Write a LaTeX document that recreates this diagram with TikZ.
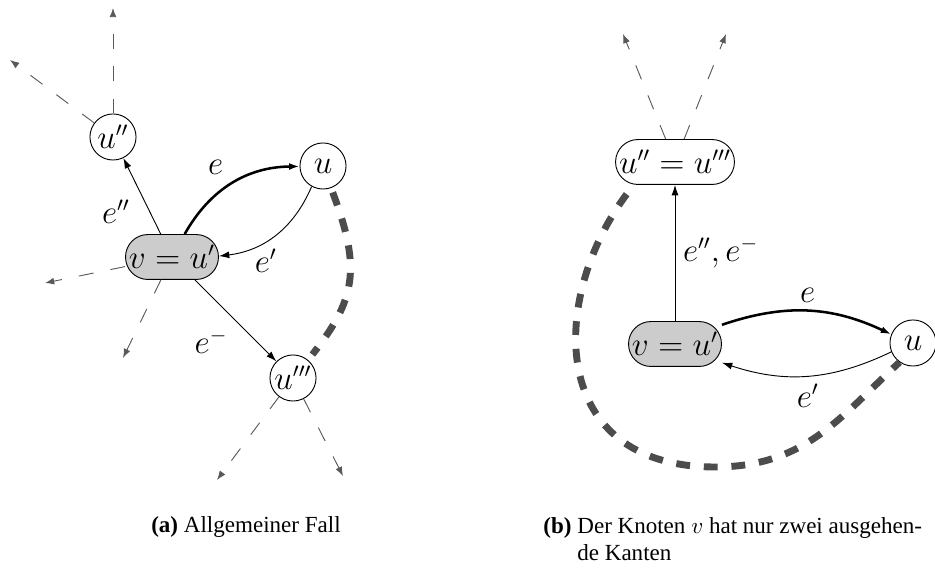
\documentclass[tikz,border=0pt]{standalone}
\usepackage{fontspec}
\setmainfont{Liberation Serif}
\usetikzlibrary{arrows.meta}

\begin{document}
\begin{tikzpicture}[x=0.434pt,y=0.434pt,
    font=\fontsize{13.3}{16}\selectfont,
    knoten/.style={circle,draw,fill=white,minimum size=20pt,inner sep=0pt},
    doppel/.style={rectangle,draw,rounded corners=9.7pt,minimum height=19.5pt,inner xsep=1.5pt,inner ysep=0pt},
    kante/.style={-{Latex[length=4.5pt,width=3pt]}},
    hauptkante/.style={kante,line width=1.1pt},
    weiter/.style={-{Latex[length=4pt,width=3pt]},black!65,dash pattern=on 6.5pt off 7.5pt},
    pfad/.style={black!70,line width=3pt,dash pattern=on 6pt off 6pt},
    unterschrift/.style={font=\fontsize{10}{12}\selectfont,inner sep=0pt}]
  \useasboundingbox (0,0) rectangle (935,571);

  % (a) allgemeiner Fall
  \node[doppel,fill=black!20] (v) at (172,314) {$v=u'$};
  \node[knoten] (upp) at (113,434) {$u''$};
  \node[knoten] (u) at (323,405) {$u$};
  \node[knoten] (uppp) at (293,193) {$u'''$};

  \coordinate (upp1) at (113,563);
  \coordinate (upp2) at (10,511);
  \coordinate (v1) at (45,288);
  \coordinate (v2) at (123,213);
  \coordinate (uppp1) at (217,91);
  \coordinate (uppp2) at (343,95);

  \draw[weiter] (upp) -- (upp1);
  \draw[weiter] (upp) -- (upp2);
  \draw[weiter] (v) -- (v1);
  \draw[weiter] (v) -- (v2);
  \draw[weiter] (uppp) -- (uppp1);
  \draw[weiter] (uppp) -- (uppp2);

  \draw[kante] (v) -- node[pos=.3,left=5pt] {$e''$} (upp);
  \draw[hauptkante] (v) to[bend left=30] node[pos=.5,above left] {$e$} (u);
  \draw[kante] (u) to[bend left=30] node[pos=.6,below] {$e'$} (v);
  \draw[kante] (v) -- node[midway,below left] {$e^-$} (uppp);
  \draw[pfad,shorten <=2pt,shorten >=3pt] (u.290) .. controls (362,301) and (355,271) .. (uppp.50);

  \node[unterschrift,anchor=base] (capa) at (246,38) {\textbf{(a)} Allgemeiner Fall};

  % (b) nur zwei ausgehende Kanten
  \node[doppel] (uu) at (675,409) {$u''=u'''$};
  \node[doppel,fill=black!20] (w) at (675,227) {$v=u'$};
  \node[knoten] (x) at (913,228) {$u$};

  \coordinate (uu1) at (623,537);
  \coordinate (uu2) at (726,537);
  \coordinate (bogen) at (715,104);

  \draw[weiter] (uu) -- (uu1);
  \draw[weiter] (uu) -- (uu2);

  \draw[kante] (w) -- node[midway,right] {$e'',e^-$} (uu);
  \draw[hauptkante] (w) to[bend left=22] node[midway,above] {$e$} (x);
  \draw[kante] (x) to[bend left=22] node[midway,below] {$e'$} (w);
  \draw[pfad,shorten <=5pt] ([xshift=8pt]uu.south west) .. controls (548,271) and (548,104) .. (bogen)
    .. controls (805,104) and (840,154) .. (x.235);

  \node[unterschrift,anchor=base west,align=left] (capb) at (543,10)
    {\textbf{(b)} Der Knoten $v$ hat nur zwei ausgehen-\\\hphantom{\textbf{(b)} }de Kanten};
\end{tikzpicture}
\end{document}
